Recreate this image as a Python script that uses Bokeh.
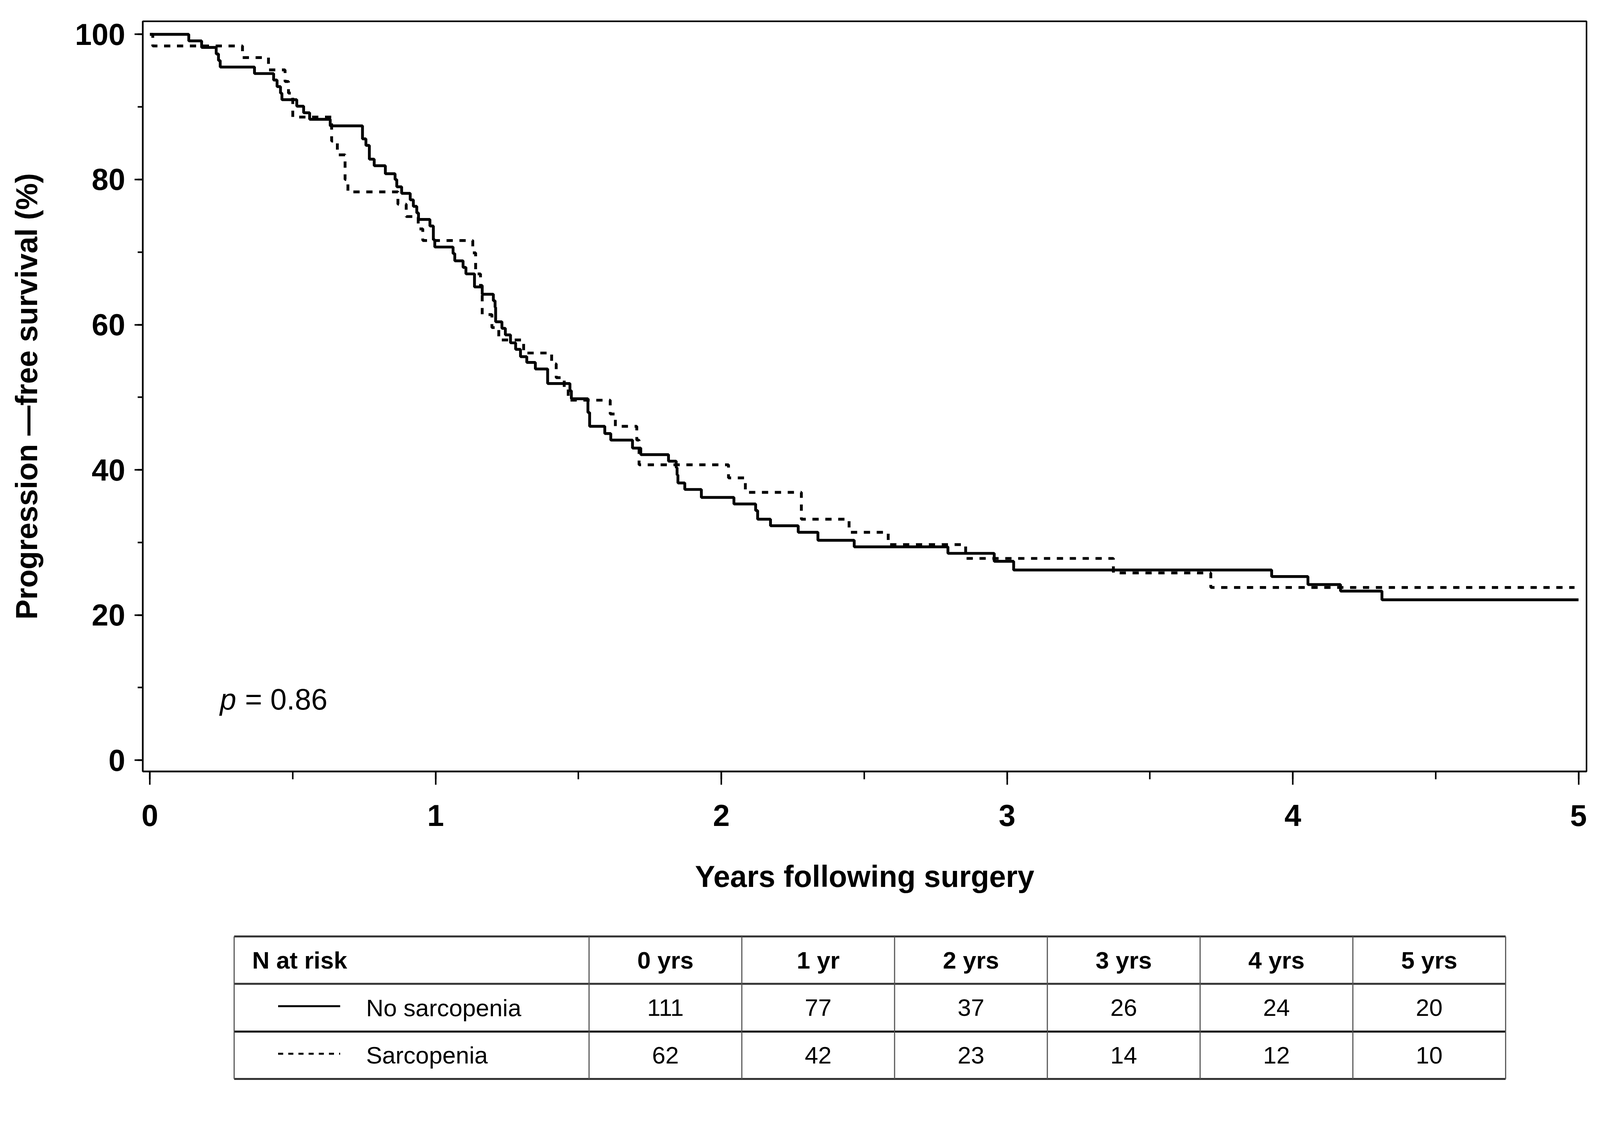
from bokeh.plotting import figure
from bokeh.models import Range1d, SingleIntervalTicker, Label
from bokeh.layouts import column
from bokeh.embed import file_html
from bokeh.resources import INLINE
from bokeh.core.properties import value

# ---------------- data ----------------
no_sarc_t = [0, 0.136, 0.181, 0.232, 0.240, 0.246, 0.366, 0.433, 0.445, 0.457, 0.462,
             0.514, 0.538, 0.559, 0.631, 0.744, 0.756, 0.768, 0.785, 0.824, 0.858,
             0.864, 0.881, 0.911, 0.922, 0.934, 0.940, 0.980, 0.992, 0.997, 1.061,
             1.067, 1.096, 1.106, 1.136, 1.163, 1.202, 1.208, 1.210, 1.232, 1.244,
             1.262, 1.280, 1.297, 1.319, 1.349, 1.392, 1.470, 1.475, 1.533, 1.539,
             1.592, 1.613, 1.689, 1.718, 1.815, 1.842, 1.845, 1.848, 1.872, 1.930,
             2.044, 2.120, 2.127, 2.172, 2.269, 2.338, 2.465, 2.793, 2.955, 3.023,
             3.926, 4.053, 4.167, 4.312, 5.0]
no_sarc_s = [100, 99.1, 98.2, 97.3, 96.4, 95.5, 94.6, 93.7, 92.8, 91.9, 91.0,
             90.1, 89.2, 88.3, 87.4, 85.6, 84.7, 82.8, 81.9, 80.8, 80.0,
             79.0, 78.1, 77.2, 76.3, 75.4, 74.5, 73.6, 71.7, 70.7, 69.8,
             68.8, 67.9, 67.0, 65.2, 64.2, 63.3, 62.4, 60.4, 59.5, 58.6,
             57.5, 56.6, 55.6, 54.8, 53.9, 51.9, 50.9, 49.8, 47.9, 46.0,
             45.0, 44.1, 43.0, 42.1, 41.2, 40.3, 39.3, 38.2, 37.3, 36.2,
             35.3, 34.4, 33.2, 32.3, 31.4, 30.3, 29.4, 28.5, 27.4, 26.2,
             25.3, 24.2, 23.3, 22.1, 22.1]

sarc_t = [0, 0.010, 0.324, 0.415, 0.473, 0.485, 0.500, 0.636, 0.656, 0.683, 0.693,
          0.868, 0.897, 0.939, 0.955, 1.130, 1.140, 1.157, 1.163, 1.197, 1.221,
          1.308, 1.406, 1.422, 1.450, 1.464, 1.611, 1.629, 1.704, 1.712, 2.025,
          2.084, 2.280, 2.447, 2.584, 2.855, 3.372, 3.713, 4.986]
sarc_s = [100, 98.4, 96.8, 95.1, 93.5, 91.9, 88.6, 85.3, 83.4, 80.0, 78.3,
          76.6, 74.9, 73.2, 71.6, 69.9, 67.0, 65.4, 61.4, 59.6, 57.9,
          56.1, 54.6, 52.7, 51.2, 49.6, 47.7, 46.0, 44.1, 40.7, 38.9,
          36.9, 33.2, 31.4, 29.7, 27.8, 25.8, 23.8, 23.8]

risk_header = ["0 yrs", "1 yr", "2 yrs", "3 yrs", "4 yrs", "5 yrs"]
group_names = ["No sarcopenia", "Sarcopenia"]
no_sarc_risk = [111, 77, 37, 26, 24, 20]
sarc_risk = [62, 42, 23, 14, 12, 10]
p_text = "= 0.86"

# ---------------- sizing (designed in photo pixels, converted to CSS px) ----------------
K = 1.039                      # photo pixels per CSS pixel observed in the render
def c(v):
    return v / K
def fs(v):
    return f"{v / K:.1f}px"

FONT = "Liberation Sans"
W = 4092                       # CSS width of each figure
H1 = 2358
H2 = 444
BL = c(388) - 8
BR = W - (c(4228) - 8)
BT = c(64) - 8
BB = H1 - (c(2059) - 8)

p = figure(width=W, height=H1, output_backend="svg", toolbar_location=None,
           x_range=Range1d(-0.025, 5.028), y_range=Range1d(-1.55, 101.8),
           min_border_left=round(BL), min_border_right=round(BR),
           min_border_top=round(BT), min_border_bottom=round(BB))
p.grid.visible = False
p.background_fill_color = "white"
p.border_fill_color = "white"
p.outline_line_color = "black"
p.outline_line_width = c(4)

p.xaxis.ticker = SingleIntervalTicker(interval=1, num_minor_ticks=2)
p.yaxis.ticker = SingleIntervalTicker(interval=20, num_minor_ticks=2)
for ax in (p.xaxis, p.yaxis):
    ax.axis_line_width = c(4)
    ax.axis_line_color = "black"
    ax.major_tick_line_width = c(4)
    ax.minor_tick_line_width = c(4)
    ax.major_tick_line_color = "black"
    ax.minor_tick_line_color = "black"
    ax.major_tick_in = 0
    ax.minor_tick_in = 0
    ax.major_label_text_font = FONT
    ax.major_label_text_font_style = "bold"
    ax.major_label_text_font_size = fs(80)
    ax.major_label_text_color = "black"
    ax.axis_label_text_font = FONT
    ax.axis_label_text_font_style = "bold"
    ax.axis_label_text_font_size = fs(80)
    ax.axis_label_text_color = "black"

p.xaxis.major_tick_out = round(c(35))
p.xaxis.minor_tick_out = round(c(21))
p.xaxis.major_label_standoff = round(c(53))
p.xaxis.axis_label = "Years following surgery"
p.xaxis.axis_label_standoff = round(c(86))

p.yaxis.major_tick_out = round(c(22))
p.yaxis.minor_tick_out = round(c(13))
p.yaxis.major_label_standoff = round(c(25))
p.yaxis.axis_label = "Progression \u2014free survival (%)"
p.yaxis.axis_label_standoff = round(c(81))

p.step(no_sarc_t, no_sarc_s, mode="after", line_color="black", line_width=c(7.5))
p.step(sarc_t, sarc_s, mode="after", line_color="black", line_width=c(7.5),
       line_dash=f"{round(c(17))} {round(c(18))}")

p.add_layout(Label(x=0.245, y=8.4, text="p", text_font=FONT, text_font_style="italic",
                   text_font_size=fs(78), text_color="black", text_baseline="alphabetic"))
p.add_layout(Label(x=0.333, y=8.4, text=p_text, text_font=FONT,
                   text_font_size=fs(78), text_color="black", text_baseline="alphabetic"))

# ---------------- risk table (coordinates in photo pixels) ----------------
top_page = (8 + H1) * K
bot_page = (8 + H1 + H2) * K
t = figure(width=W, height=H2, output_backend="svg", toolbar_location=None,
           x_range=Range1d(388, 4228), y_range=Range1d(bot_page, top_page),
           x_axis_location=None, y_axis_location=None,
           min_border_left=round(BL), min_border_right=round(BR),
           min_border_top=0, min_border_bottom=0)
t.grid.visible = False
t.outline_line_color = None
t.background_fill_color = "white"
t.border_fill_color = "white"

left = 631
first_w = 944
col_w = 406.3
right = left + first_w + 6 * col_w
bounds = [left, left + first_w] + [left + first_w + col_w * (i + 1) for i in range(6)]
rows = [2498, 2624, 2751, 2877]
centers = [left + first_w + col_w * (i + 0.5) for i in range(6)]
row_mid = [(rows[i] + rows[i + 1]) / 2 for i in range(3)]

t.segment(x0=[left] * 4, y0=rows, x1=[right] * 4, y1=rows,
          line_color=["#333333", "#333333", "black", "#333333"], line_width=c(5))
t.segment(x0=bounds, y0=[rows[0]] * len(bounds), x1=bounds, y1=[rows[-1]] * len(bounds),
          line_color="#555555", line_width=c(3))

TS = fs(64)
t.text(x=[left + 48], y=[row_mid[0]], text=["N at risk"], text_font=value(FONT),
       text_font_style="bold", text_font_size=TS, text_align="left",
       text_baseline="middle", text_color="black")
t.text(x=centers, y=[row_mid[0]] * 6, text=risk_header, text_font=value(FONT),
       text_font_style="bold", text_font_size=TS, text_align="center",
       text_baseline="middle", text_color="black")
t.text(x=centers, y=[row_mid[1]] * 6, text=[str(v) for v in no_sarc_risk],
       text_font=value(FONT), text_font_size=TS, text_align="center",
       text_baseline="middle", text_color="black")
t.text(x=centers, y=[row_mid[2]] * 6, text=[str(v) for v in sarc_risk],
       text_font=value(FONT), text_font_size=TS, text_align="center",
       text_baseline="middle", text_color="black")
t.text(x=[left + 351] * 2, y=[row_mid[1], row_mid[2]], text=group_names,
       text_font=value(FONT), text_font_size=TS, text_align="left",
       text_baseline="middle", text_color="black")
t.line(x=[left + 117, left + 282], y=[row_mid[1] - 4] * 2, line_color="black", line_width=c(5))
t.line(x=[left + 117, left + 282], y=[row_mid[2] - 4] * 2, line_color="black", line_width=c(5),
       line_dash=f"{round(c(14))} {round(c(13))}")

layout = column(p, t, spacing=0)
open("out.html", "w").write(file_html(layout, INLINE))
